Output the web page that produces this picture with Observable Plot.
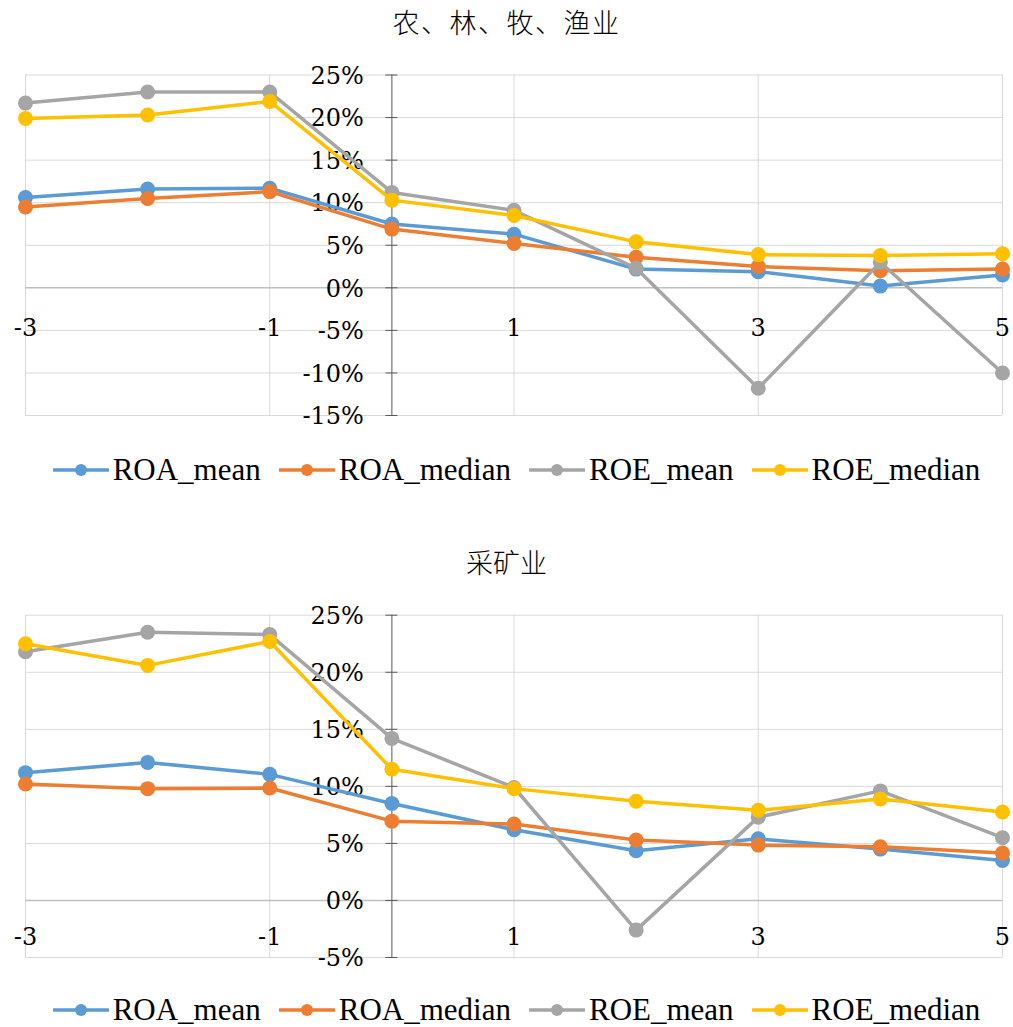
<!DOCTYPE html>
<html>
<head>
<meta charset="utf-8">
<script src="https://cdn.jsdelivr.net/npm/d3@7"></script>
<script src="https://cdn.jsdelivr.net/npm/@observablehq/plot@0.6"></script>
<style>
  html, body { margin: 0; padding: 0; background: #fff; }
  #page { position: relative; width: 1013px; height: 1027px; overflow: hidden; background: #fff; }
  .title { position: absolute; left: 0; width: 1013px; text-align: center; font-family: "Noto Sans CJK SC", sans-serif; font-size: 27px; font-weight: 300; color: #000; line-height: 1; }
  .chart { position: absolute; left: 0; }
  .legend { position: absolute; left: 48px; width: 937px; display: flex; justify-content: center; align-items: center; gap: 18px; font-family: "Liberation Serif", "Tinos", "Times New Roman", "DejaVu Serif", "Noto Serif", "FreeSerif", serif; font-size: 31px; color: #000; line-height: 1; }
  .item { display: flex; align-items: center; }
  .item span { margin-left: 4px; }
</style>
</head>
<body>
<div id="page"></div>
<script>
// x positions (years relative to event)
const xValues = [-3, -2, -1, 0, 1, 2, 3, 4, 5];
const xLabels = [-3, -1, 1, 3, 5];
const seriesNames = ["ROA_mean", "ROA_median", "ROE_mean", "ROE_median"];
const seriesColors = ["#5B9BD5", "#ED7D31", "#A5A5A5", "#FFC000"];

// Panel 1: 农、林、牧、渔业 (values in %)
const agriTitle = "农、林、牧、渔业";
const agriTicks = [-15, -10, -5, 0, 5, 10, 15, 20, 25];
const agri_ROA_mean   = [10.6, 11.6, 11.7, 7.5, 6.3, 2.2, 1.9, 0.2, 1.5];
const agri_ROA_median = [9.5, 10.5, 11.3, 6.9, 5.2, 3.6, 2.5, 2.0, 2.2];
const agri_ROE_mean   = [21.7, 23.0, 23.0, 11.2, 9.1, 2.3, -11.8, 3.0, -10.0];
const agri_ROE_median = [19.9, 20.3, 21.9, 10.3, 8.5, 5.4, 3.9, 3.8, 4.0];

// Panel 2: 采矿业 (values in %)
const miningTitle = "采矿业";
const miningTicks = [-5, 0, 5, 10, 15, 20, 25];
const mining_ROA_mean   = [11.2, 12.1, 11.05, 8.5, 6.2, 4.35, 5.4, 4.5, 3.5];
const mining_ROA_median = [10.2, 9.8, 9.85, 6.95, 6.7, 5.3, 4.85, 4.7, 4.15];
const mining_ROE_mean   = [21.8, 23.5, 23.3, 14.2, 9.9, -2.6, 7.3, 9.6, 5.5];
const mining_ROE_median = [22.5, 20.6, 22.7, 11.5, 9.8, 8.7, 7.9, 8.9, 7.75];

function toLong(arrays) {
  const out = [];
  arrays.forEach((arr, si) => arr.forEach((v, i) => out.push({series: seriesNames[si], x: xValues[i], y: v})));
  return out;
}

const tickFont = "'DejaVu Serif', 'Liberation Serif', 'Tinos', 'Times New Roman', 'Noto Serif', 'FreeSerif', serif";

function makeChart(arrays, ticks, opts) {
  const data = toLong(arrays);
  const marks = [
    Plot.ruleY(ticks.filter(d => d !== 0), {y: d => d, stroke: "#d9d9d9", strokeWidth: 1}),
    Plot.ruleX(xLabels, {x: d => d, stroke: "#d9d9d9", strokeWidth: 1}),
    Plot.ruleY([0], {y: d => d, stroke: "#bfbfbf", strokeWidth: 1.5}),
    Plot.ruleX([0], {x: d => d, stroke: "#595959", strokeWidth: 1}),
    Plot.ruleY(ticks, {y: d => d, x1: d => 0, x2: d => 0, insetLeft: -6, insetRight: -6, stroke: "#595959", strokeWidth: 1}),
    Plot.text(ticks, {x: d => 0, y: d => d, text: d => d + "%", textAnchor: "end", dx: -28, dy: 1, fontSize: 24, fontFamily: tickFont, fill: "#000"}),
    Plot.text(xLabels, {x: d => d, y: d => 0, text: d => String(d), dy: opts.labelDy, fontSize: 24, fontFamily: tickFont, fill: "#000"})
  ];
  seriesNames.forEach((name) => {
    const sub = data.filter(d => d.series === name);
    marks.push(Plot.line(sub, {x: "x", y: "y", stroke: "series", strokeWidth: 3.5, strokeLinejoin: "round", strokeLinecap: "round"}));
    marks.push(Plot.dot(sub, {x: "x", y: "y", fill: "series", r: 7.5}));
  });
  return Plot.plot({
    width: 1013,
    height: opts.height,
    marginLeft: 25,
    marginRight: 11,
    marginTop: opts.marginTop,
    marginBottom: opts.marginBottom,
    x: {domain: [-3, 5], axis: null},
    y: {domain: [ticks[0], ticks[ticks.length - 1]], axis: null},
    color: {domain: seriesNames, range: seriesColors},
    style: {background: "white", overflow: "visible", fontFamily: tickFont},
    marks
  });
}

function legend(top) {
  const div = document.createElement("div");
  div.className = "legend";
  div.style.top = top + "px";
  seriesNames.forEach((name, i) => {
    const item = document.createElement("div");
    item.className = "item";
    item.innerHTML = `<svg width="56" height="20"><line x1="1" y1="10" x2="55" y2="10" stroke="${seriesColors[i]}" stroke-width="3.5" stroke-linecap="round"/><circle cx="28" cy="10" r="6" fill="${seriesColors[i]}"/></svg><span>${name}</span>`;
    div.appendChild(item);
  });
  return div;
}

function title(text, top, spacing) {
  const t = document.createElement("div");
  t.className = "title";
  t.style.top = top + "px";
  t.style.letterSpacing = spacing + "px";
  t.textContent = text;
  return t;
}

const page = document.getElementById("page");

page.appendChild(title(agriTitle, 8, 1.5));
const c1 = makeChart([agri_ROA_mean, agri_ROA_median, agri_ROE_mean, agri_ROE_median], agriTicks,
  {height: 400, marginTop: 24.5, marginBottom: 35, labelDy: 40});
c1.classList.add("chart");
c1.style.position = "absolute";
c1.style.top = "50px";
page.appendChild(c1);
page.appendChild(legend(454));

page.appendChild(title(miningTitle, 548, 0));
const c2 = makeChart([mining_ROA_mean, mining_ROA_median, mining_ROE_mean, mining_ROE_median], miningTicks,
  {height: 400, marginTop: 24.7, marginBottom: 33, labelDy: 37});
c2.classList.add("chart");
c2.style.position = "absolute";
c2.style.top = "590px";
page.appendChild(c2);
page.appendChild(legend(994));
</script>
</body>
</html>
